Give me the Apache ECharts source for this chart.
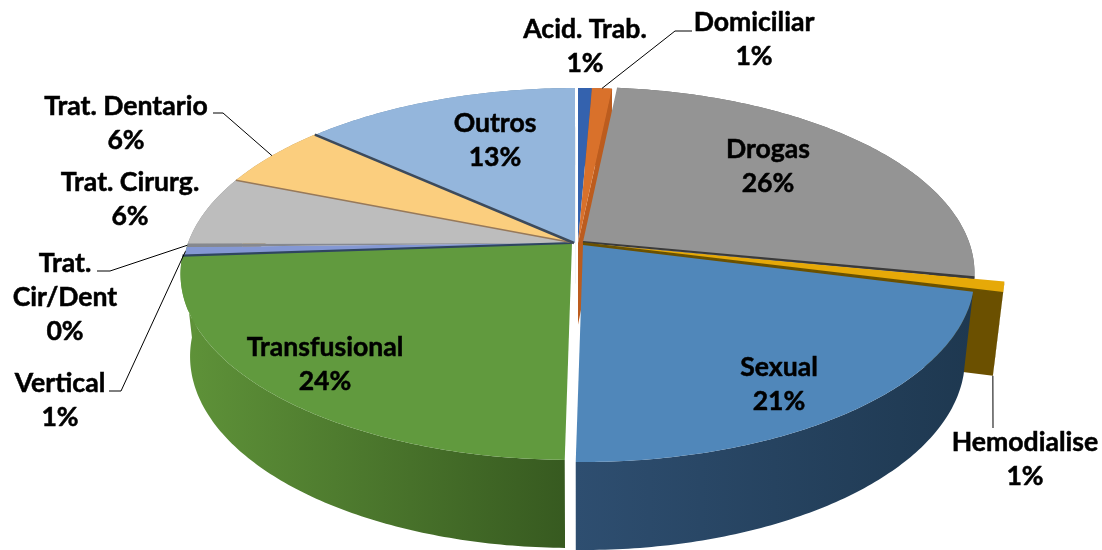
<!DOCTYPE html>
<html><head><meta charset="utf-8">
<style>html,body{margin:0;padding:0;background:#fff}#c{width:1102px;height:550px}</style>
<script src="https://cdn.jsdelivr.net/npm/echarts@6/dist/echarts.min.js"></script>
</head><body><div id="c"></div>
<script>
// ---- data (clockwise from 12 o'clock) ----
const sliceNames = ['Acid. Trab.','Domiciliar','Drogas','Hemodialise','Sexual','Transfusional','Vertical','Trat.\nCir/Dent','Trat. Cirurg.','Trat. Dentario','Outros'];
const sliceValues = [0.67,0.97,26.4,0.95,21.26,23.65,0.75,0.3,6.05,5.6,13.4];
// ---- styles ----
const topColors = ['#3462AE','#D9712B','#949494','#E6A908','#5087BA','#619A3E','#8498D4','#85888F','#BDBDBD','#FBCE7E','#94B6DC'];
const wallStops = [['#234a85','#234a85'],['#a5531e','#a5531e'],['#666','#666'],['#6b5000','#6b5000'],['#2e4e70','#1e3850'],['#5f9339','#375a20'],['#5f9339','#5f9339'],['#5f9339','#5f9339'],['#888','#888'],['#b09058','#b09058'],['#688aa8','#688aa8']];
// ---- projection of the tilted disc ----
const cx = 578, cy = 243, discA = 386, discB = 180.8, persp = 0.1667;
const depthDy = 81.5, depthSx = 0.976, depthSy = 1.03;
const tipShift = [[0,0],[0,0],[5,-1],[5,0],[5,2],[-6,0],[-4,0],[-4,0],[-4,0],[-4,0],[-3,0]];
const rimShift = [[0,0],[0,0],[5,-1],[35,3],[5,2],[-6,0],[-4,0],[-4,0],[-4,0],[-4,0],[-3,0]];
// cut faces [slice index, which boundary (0 start / 1 end), colour]
const cutFaces = [[1,1,'#BC5C1E'],[3,1,'#6B5000'],[10,1,'#3F5568']];
// boundary lines [slice index, colour, width]
const edgeLines = [[2,'#3A3A3A',2.2],[3,'#6A5200',1.5],[5,'#2F4560',2.2],[8,'#97795A',1.6],[9,'#3C4A5C',2.6]];
// label centres and leader elbows
const labelCenters = [[585,46],[754,39],[768,166],[1025,459],[779,384],[325,364],[60,400],[65,297],[130,199],[126,123],[495,140]];
const leaders = {1:[[675,31],[692,31]],3:[[993,428]],6:[[121,391],[109,391]],7:[[110,271],[97,271]],9:[[223,113],[213,113]]};
const hemoIdx = 3, drogasIdx = 2;

const total = sliceValues.reduce((s,v)=>s+v,0);
const starts = []; sliceValues.reduce((s,v,i)=>{starts[i]=s;return s+v;},0);
const ang = p => p/total*360;
function disc(deg, shift){
  const t = deg*Math.PI/180, X = Math.sin(t), Y = -Math.cos(t), w = 1-persp*Y;
  return [cx+shift[0]+discA*X/w, cy+shift[1]+discB*Y/w];
}
const lower = p => [cx+depthSx*(p[0]-cx), cy+depthDy+depthSy*(p[1]-cy)];
function arc(a0,a1,shift){
  const n = Math.max(2,Math.ceil((a1-a0)/0.75)), out=[];
  for(let i=0;i<=n;i++) out.push(disc(a0+(a1-a0)*i/n,shift));
  return out;
}
const range = i => [ang(starts[i]), ang(starts[i]+sliceValues[i])];
const tip = i => [cx+tipShift[i][0],cy+tipShift[i][1]];
const poly = (points,fill) => ({type:'polygon',shape:{points},style:{fill,stroke:null}});

function renderWall(params){
  const i = params.dataIndex, [a0,a1] = range(i);
  const rim = arc(a0,a1,rimShift[i]);
  const children = [poly(rim.concat(rim.map(lower).reverse()),{
    type:'linear',x:0,y:0,x2:1,y2:0,colorStops:[{offset:0,color:wallStops[i][0]},{offset:1,color:wallStops[i][1]}]
  })];
  cutFaces.filter(f=>f[0]===i).forEach(f=>{
    const r = disc(f[1]?a1:a0,rimShift[i]), t=tip(i);
    children.push(poly([r,t,lower(t),lower(r)],f[2]));
  });
  return {type:'group',children};
}
function renderTop(params){
  const i = params.dataIndex, [a0,a1] = range(i);
  const shapes = [poly([tip(i)].concat(arc(a0,a1,rimShift[i])),topColors[i])];
  if(i===hemoIdx){
    // dark sliver closing the space between the exploded slice and its neighbour
    const t=tip(i), r=disc(a0,rimShift[i]), dr=disc(range(drogasIdx)[1],rimShift[drogasIdx]);
    const f=(dr[0]-t[0])/(r[0]-t[0]);
    shapes.push(poly([t,dr,[t[0]+(r[0]-t[0])*f,t[1]+(r[1]-t[1])*f]],'#4A4436'));
  }
  return {type:'group',children:shapes};
}
function renderEdge(params){
  const e = edgeLines[params.dataIndex], i=e[0], a1=range(i)[1];
  const t=tip(i), r=disc(a1,rimShift[i]);
  return {type:'line',shape:{x1:t[0],y1:t[1],x2:r[0],y2:r[1]},style:{stroke:e[1],lineWidth:e[2]}};
}
function renderLabel(params){
  const i = params.dataIndex, c = labelCenters[i], children=[];
  if(leaders[i]){
    const [a0,a1] = range(i), mid=(a0+a1)/2;
    const rimP = i===hemoIdx ? lower(disc(a1,rimShift[i])) : disc(mid,rimShift[i]);
    children.push({type:'polyline',shape:{points:[rimP].concat(leaders[i])},style:{fill:null,stroke:'#000',lineWidth:1}});
  }
  children.push({type:'text',style:{text:sliceNames[i]+'\n'+Math.round(sliceValues[i])+'%',x:c[0],y:c[1],
    align:'center',verticalAlign:'middle',lineHeight:34,fontFamily:'Lato',fontWeight:'bold',fontSize:26.6,fill:'#000',stroke:'#000',lineWidth:0.5}});
  return {type:'group',children};
}
const chart = echarts.init(document.getElementById('c'),null,{renderer:'canvas'});
const sdata = sliceValues.map((v,i)=>[i,v]);
chart.setOption({
  animation:false,backgroundColor:'#fff',
  series:[
    {type:'custom',coordinateSystem:'none',z:1,silent:true,renderItem:renderWall,data:sdata},
    {type:'custom',coordinateSystem:'none',z:2,silent:true,renderItem:renderTop,data:sdata},
    {type:'custom',coordinateSystem:'none',z:3,silent:true,renderItem:renderEdge,data:edgeLines.map((e,i)=>[i])},
    {type:'custom',coordinateSystem:'none',z:4,silent:true,renderItem:renderLabel,data:sdata}
  ]
});
</script></body></html>
